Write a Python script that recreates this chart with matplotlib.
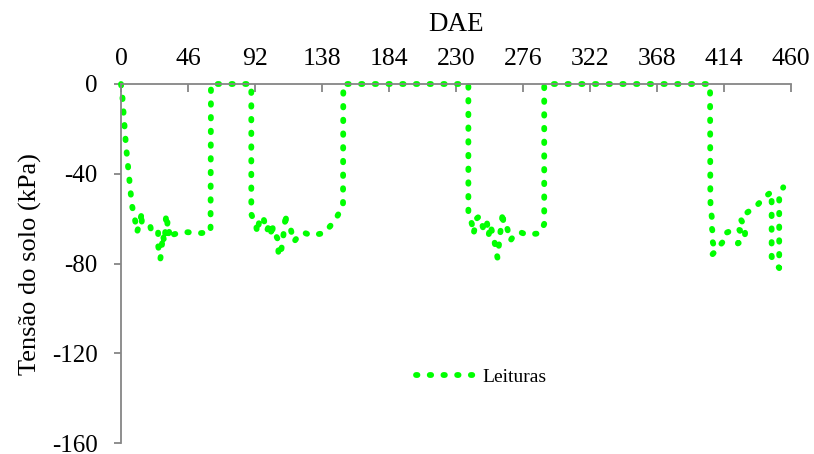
import matplotlib
matplotlib.use("Agg")
import matplotlib.pyplot as plt

# DAE (days) and soil tension readings (kPa)
dae = [
    0, 1, 2, 3.5, 5.5, 7.5, 9.5, 11, 12.3, 14.5, 14.2, 17.5, 20, 21, 23, 25.5, 25.5, 27, 28,
    28.5, 30, 31, 32, 31.5, 32.5, 34, 36, 41.5, 46, 53, 61.5, 61.8,
    89.5, 89.5, 92.7, 93.7, 94.8, 95.9, 97.8, 100.1, 102.3, 103.6, 104.3, 106.5, 108.1, 108.1,
    109.5, 111.5, 113.3, 113.3, 116.6, 118.8, 121.8, 125.7, 130.6, 139.6, 143.8, 148.1, 152.5, 152.7,
    238.6, 238.6, 241, 242.1, 244.5, 246.3, 249, 251.3, 252.5, 253.6, 255.9, 257.7, 258.6, 260.5,
    262.3, 262.7, 265, 267.4, 270.1, 274.2, 278.8, 287.5, 290.7, 290.7,
    404.6, 404.8, 405, 406, 405.2, 406.3, 405.5, 407, 405.5, 406, 407.5, 415, 415, 418.4, 421.8,
    425.2, 423.7, 428.2, 429, 425, 430, 436.9, 442.8, 446.9, 446.9, 452.1, 452.1, 454.9,
]
tensao = [
    0, -6, -15, -28, -41, -54, -60, -66, -63, -57, -62, -62, -63, -66, -67, -66, -72, -78, -73.5,
    -67, -70.5, -58, -61, -65, -67, -64, -67, -66, -66, -66.5, -66, 0,
    0, -58, -63, -66.3, -61.7, -59, -59.6, -65.6, -62, -68, -63.6, -67.6, -69.6, -75,
    -76.7, -67.6, -57.6, -62, -64.7, -70.3, -67.6, -66.2, -67.4, -66.4, -63.2, -59.4, -54.2, 0,
    0, -57.3, -62.3, -66.8, -59.8, -58.8, -64.7, -61.3, -67.5, -62.8, -68, -74.4, -77.4, -66.5,
    -56.9, -63.5, -63.5, -69.8, -67.2, -66, -67.1, -66.5, -62.4, 0,
    0, -49.5, -56, -60, -62.5, -65.5, -68.5, -71.5, -74.5, -76, -75, -69, -66.5, -65.5, -64.2,
    -65.1, -71, -69.5, -64, -59.5, -57.3, -54, -50, -48, -77, -82, -50, -46,
]

xticks = [0, 46, 92, 138, 184, 230, 276, 322, 368, 414, 460]
yticks = [0, -40, -80, -120, -160]

plt.rcParams['font.family'] = ['Liberation Serif', 'DejaVu Serif']
plt.rcParams['axes.unicode_minus'] = False

fig = plt.figure(figsize=(8.14, 4.54), dpi=100)
ax = fig.add_axes([121 / 814, 1 - 443.3 / 454, 669.7 / 814, 359.3 / 454])

green = '#00ff00'
lw = 4.2
ax.plot(dae, tensao, color=green, linewidth=lw, linestyle=(0, (0.25, 2.1)),
        dash_capstyle='round', solid_capstyle='round', clip_on=False, label='Leituras')

ax.set_xlim(0, 460)
ax.set_ylim(-160, 0)
ax.set_xticks(xticks)
ax.set_yticks(yticks)

ax.xaxis.tick_top()
ax.xaxis.set_label_position('top')
ax.set_xlabel('DAE', fontsize=19.5, labelpad=12)
ax.set_ylabel('Tensão do solo (kPa)', fontsize=19, labelpad=7)

spine_col = '#868686'
for s in ['right', 'bottom']:
    ax.spines[s].set_visible(False)
for s in ['top', 'left']:
    ax.spines[s].set_color(spine_col)
    ax.spines[s].set_linewidth(1.3)

ax.tick_params(axis='x', direction='in', length=6, width=1.3, color=spine_col,
               labelsize=18.5, pad=10)
ax.tick_params(axis='y', direction='out', length=5, width=1.3, color=spine_col,
               labelsize=18, pad=12)

leg = ax.legend(loc='center left', bbox_to_anchor=(0.415, 0.185), frameon=False,
                fontsize=14, handlelength=3.0, handletextpad=0.4)

fig.savefig('out.png', dpi=100)
